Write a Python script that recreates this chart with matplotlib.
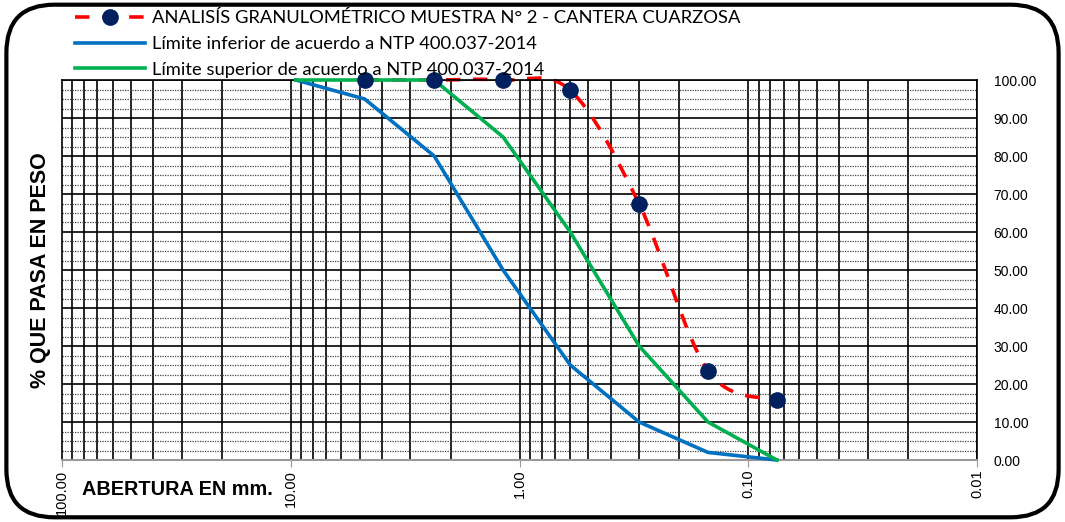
import numpy as np
import matplotlib
matplotlib.use("Agg")
import matplotlib.pyplot as plt
from matplotlib.patches import FancyBboxPatch, PathPatch
from matplotlib.path import Path
from matplotlib.lines import Line2D
from matplotlib.ticker import FixedLocator, NullFormatter

# sieve openings (mm) and % passing
sieve_sample = [4.75, 2.36, 1.18, 0.60, 0.30, 0.15, 0.075]
pass_sample = [100.0, 100.0, 100.0, 97.3, 67.4, 23.5, 15.8]

sieve_limits = [9.5, 4.75, 2.36, 1.18, 0.60, 0.30, 0.15, 0.075]
lower_limit = [100, 95, 80, 50, 25, 10, 2, 0]
upper_limit = [100, 100, 100, 85, 60, 30, 10, 0]

x_ticks = [100, 10, 1, 0.1, 0.01]
y_ticks = [0, 10, 20, 30, 40, 50, 60, 70, 80, 90, 100]

lbl_sample = "ANALISÍS GRANULOMÉTRICO MUESTRA N° 2 - CANTERA CUARZOSA"
lbl_lower = "Límite inferior de acuerdo a NTP 400.037-2014"
lbl_upper = "Límite superior de acuerdo a NTP 400.037-2014"

RED = "#FF0000"
NAVY = "#002060"
BLUE = "#0070C0"
GREEN = "#00B050"
DASH = (0, (4, 3.5))


def smooth_path(xs, ys):
    """Excel-style smoothed line: cubic Bezier through the points (in log-x space)."""
    p = np.column_stack([np.log10(xs), ys])
    n = len(p)
    verts = [p[0]]
    codes = [Path.MOVETO]
    for i in range(n - 1):
        p0 = p[max(i - 1, 0)]
        p3 = p[min(i + 2, n - 1)]
        c1 = p[i] + (p[i + 1] - p0) / 6.0
        c2 = p[i + 1] - (p3 - p[i]) / 6.0
        verts += [c1, c2, p[i + 1]]
        codes += [Path.CURVE4] * 3
    verts = np.array(verts)
    verts[:, 0] = 10.0 ** verts[:, 0]
    return Path(verts, codes)


fig = plt.figure(figsize=(10.65, 5.22), dpi=100)

# rounded frame around the chart
frame = FancyBboxPatch((0.006, 0.009), 0.988, 0.982, boxstyle="round,pad=0,rounding_size=0.045",
                       transform=fig.transFigure, fill=False, edgecolor="black", linewidth=3,
                       mutation_aspect=1065 / 522)
fig.patches.append(frame)

ax = fig.add_axes([62 / 1065, 1 - 460 / 522, (977 - 62) / 1065, (460 - 80) / 522])
ax.set_xscale("log")
ax.set_xlim(100, 0.01)
ax.set_ylim(0, 100)

# grid: every mantissa line solid, y major solid, y minor dotted
minor_x = [m * 10.0 ** e for e in range(-2, 2) for m in range(1, 10)]
for xv in minor_x:
    ax.axvline(xv, color="black", lw=1.2, zorder=1)
for yv in y_ticks:
    ax.axhline(yv, color="black", lw=1.2, zorder=1)
for yv in np.arange(0, 100, 2.5):
    if yv % 10:
        ax.axhline(yv, color="#444444", lw=0.9, ls=(0, (1, 1)), zorder=1)

ax.add_patch(PathPatch(smooth_path(sieve_sample, pass_sample), fill=False, clip_on=False,
                       edgecolor=RED, lw=2.6, ls=DASH, zorder=2, capstyle="butt"))
ax.plot(sieve_limits, lower_limit, color=BLUE, lw=2.6, zorder=3, clip_on=False)
ax.plot(sieve_limits, upper_limit, color=GREEN, lw=2.6, zorder=4, clip_on=False)
ax.plot(sieve_sample, pass_sample, ls="none", marker="o", ms=11, color=NAVY, zorder=5, clip_on=False)

ax.xaxis.set_major_locator(FixedLocator(x_ticks))
ax.xaxis.set_minor_locator(FixedLocator([]))
ax.xaxis.set_minor_formatter(NullFormatter())
ax.set_xticklabels([f"{v:.2f}" for v in x_ticks], rotation=90, fontsize=10.5,
                   family="Liberation Sans", va="top")
ax.tick_params(axis="x", length=5, color="#999999", pad=2)

ax.yaxis.tick_right()
ax.set_yticks(y_ticks)
ax.set_yticklabels([f"{v:.2f}" for v in y_ticks], fontsize=10, family="Liberation Sans")
ax.tick_params(axis="y", length=0, pad=12)

for side in ["top", "left", "right"]:
    ax.spines[side].set_color("black")
    ax.spines[side].set_linewidth(1.2)
ax.spines["bottom"].set_color("#999999")
ax.spines["bottom"].set_linewidth(1.5)

fig.text(0.077, 0.062, "ABERTURA EN mm.", fontsize=14.3, fontweight="bold",
         family="Liberation Sans", ha="left", va="center")
fig.text(0.038, 0.483, "% QUE PASA EN PESO", fontsize=15.5, fontweight="bold",
         family="Liberation Sans", rotation=90, ha="center", va="center")

handles = [
    Line2D([], [], color=RED, lw=2.6, ls=DASH, marker="o", ms=11,
           markerfacecolor=NAVY, markeredgecolor=NAVY),
    Line2D([], [], color=BLUE, lw=2.6),
    Line2D([], [], color=GREEN, lw=2.6),
]
fig.legend(handles, [lbl_sample, lbl_lower, lbl_upper], loc="upper left",
           bbox_to_anchor=(0.064, 0.994), frameon=False,
           prop={"family": "Lato", "size": 13.2}, handlelength=3.8,
           handletextpad=0.4, labelspacing=0.52, borderaxespad=0.0)

fig.savefig("out.png", dpi=100)
